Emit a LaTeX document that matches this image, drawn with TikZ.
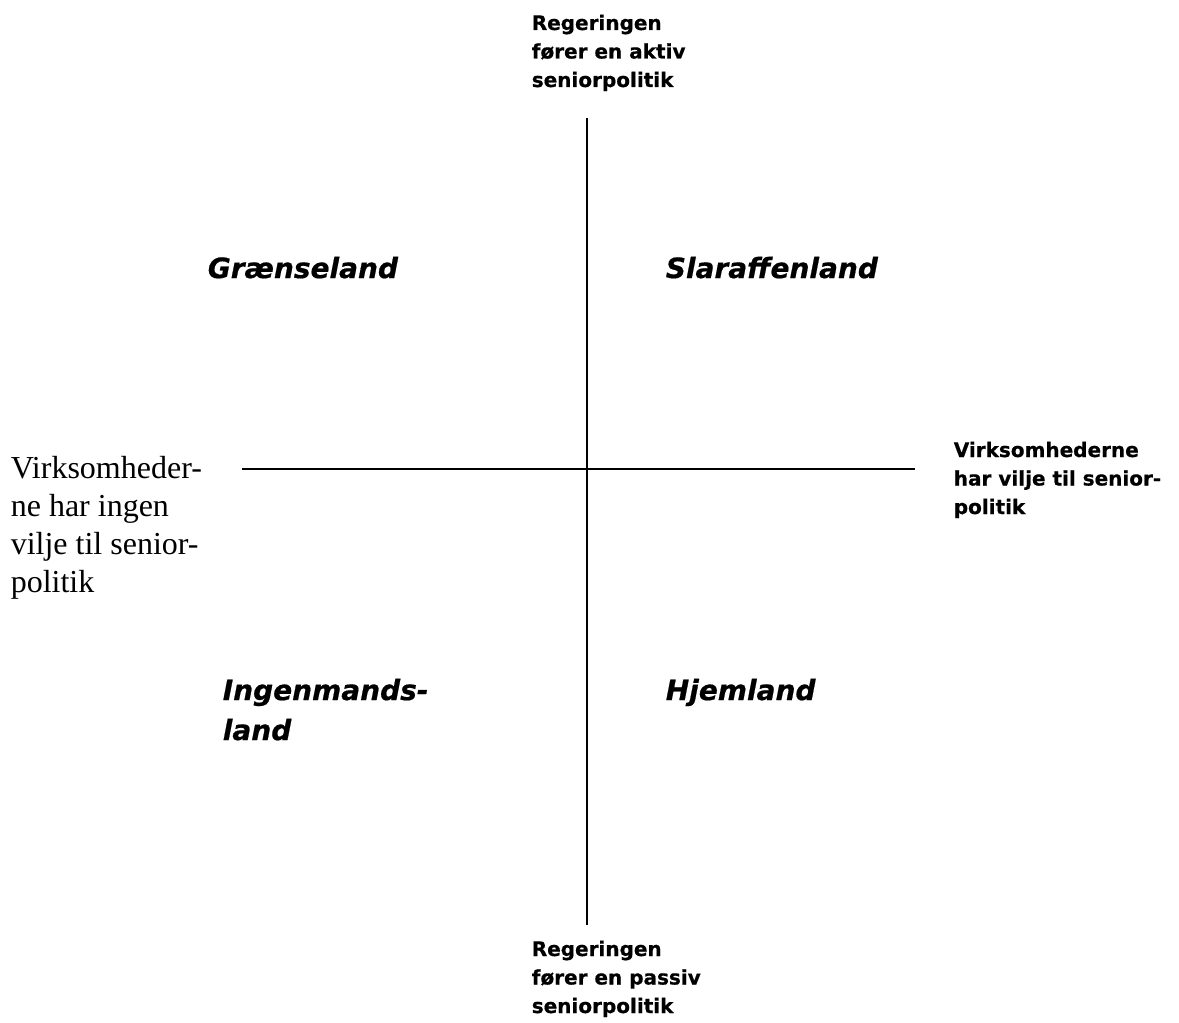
\documentclass[tikz,border=0pt]{standalone}
\usepackage{fontspec}
\setmainfont{Liberation Serif}
\newfontfamily\labelfont{DejaVu Sans}[BoldFeatures={FakeBold=0.6}, BoldItalicFeatures={FakeBold=0.6}]
\usepackage{tikz}

\begin{document}
\begin{tikzpicture}[x=1pt, y=-1pt, line width=1.6pt,
  axislabel/.style={anchor=north west, inner sep=0pt, align=left,
    font=\labelfont\bfseries\fontsize{20}{28.5}\selectfont},
  landlabel/.style={anchor=north west, inner sep=0pt, align=left,
    font=\labelfont\bfseries\itshape\fontsize{28}{40}\selectfont}]
\useasboundingbox (0,0) rectangle (1179,1023);
% Ends of the two axes
\coordinate (aktiv) at (587,118);
\coordinate (passiv) at (587,925);
\coordinate (ingen) at (242,469);
\coordinate (vilje) at (915,469);
\draw (aktiv) -- (passiv);
\draw (ingen) -- (vilje);
% Labels of the axes
\node[axislabel] (regaktiv) at (531,14) {Regeringen\\fører en aktiv\\seniorpolitik};
\node[axislabel] (regpassiv) at (531,940) {Regeringen\\fører en passiv\\seniorpolitik};
\node[axislabel] (virkvilje) at (953,441) {Virksomhederne\\har vilje til senior-\\politik};
\node[anchor=north west, inner sep=0pt, align=left,
  font=\fontsize{32}{38}\selectfont] (virkingen) at (10,455)
  {Virksomheder-\\ne har ingen\\vilje til senior-\\politik};
% The four quadrants
\node[landlabel] (graense) at (207,256) {Grænseland};
\node[landlabel] (slaraffen) at (665,256) {Slaraffenland};
\node[landlabel] (ingenmand) at (222,678) {Ingenmands-\\land};
\node[landlabel] (hjem) at (665,678) {Hjemland};
\end{tikzpicture}
\end{document}
